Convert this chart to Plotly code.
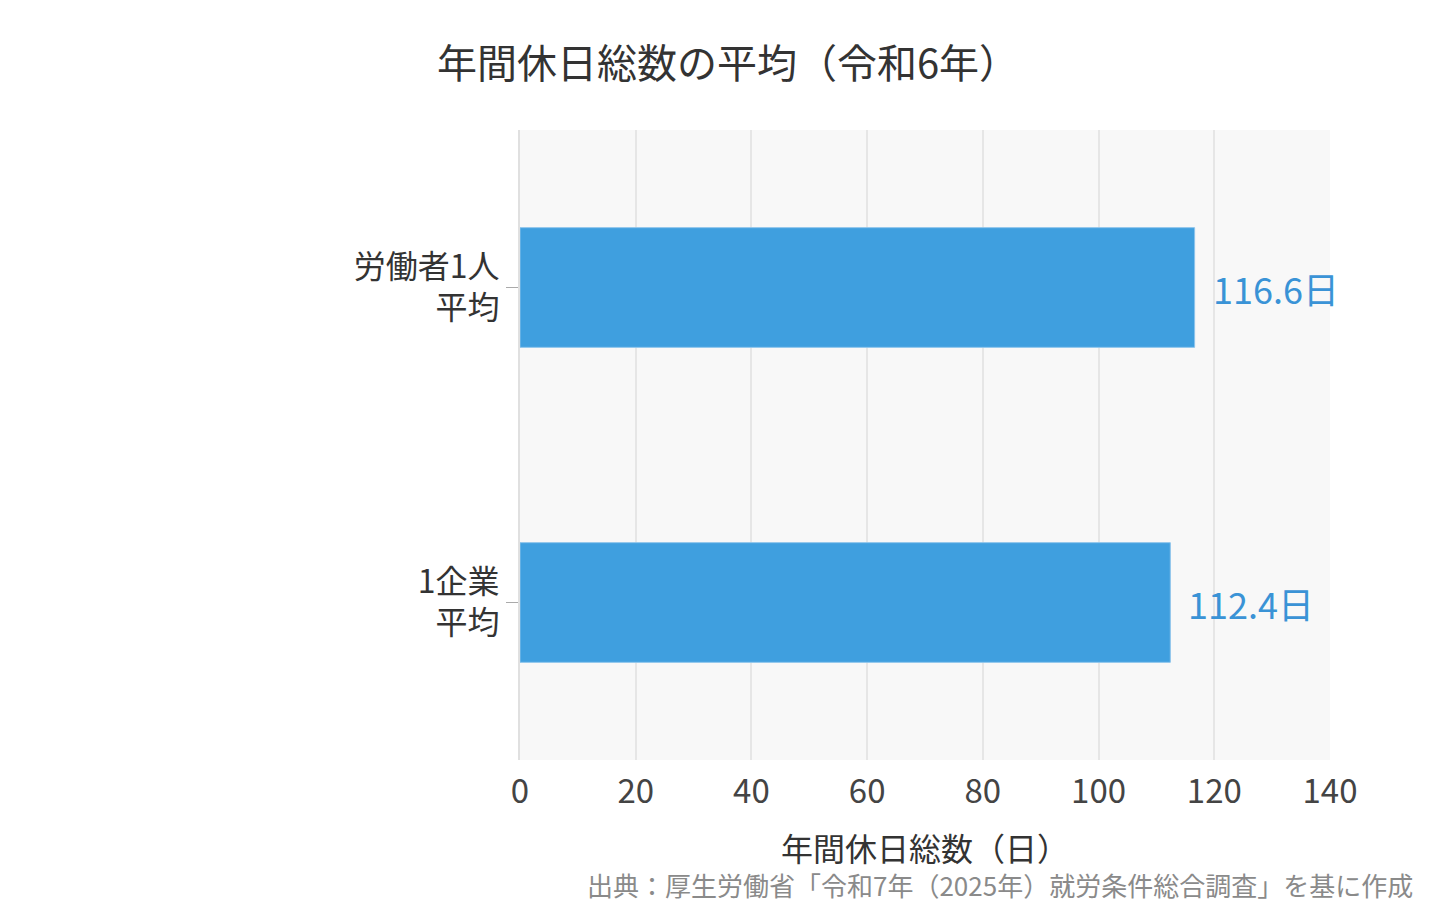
import plotly.graph_objects as go

# data
categories = ["労働者1人<br>平均", "1企業<br>平均"]
values = [116.6, 112.4]
value_labels = ["116.6日", "112.4日"]
x_ticks = [0, 20, 40, 60, 80, 100, 120, 140]

FONT = "Noto Sans CJK JP, Noto Sans, sans-serif"
BAR = "#3f9fdf"

fig = go.Figure()
fig.add_trace(go.Bar(
    x=values, y=categories, orientation="h",
    marker=dict(color=BAR, line=dict(color="#8cc4ec", width=1)),
    hoverinfo="skip",
))

# value labels just to the right of each bar
for c, v, t in zip(categories, values, value_labels):
    fig.add_annotation(x=v, y=c, text=t, showarrow=False,
                       xanchor="left", xshift=16,
                       font=dict(family=FONT, size=36, color="#3a93d6"))

fig.add_annotation(text="出典：厚生労働省「令和7年（2025年）就労条件総合調査」を基に作成",
                   xref="paper", yref="paper", x=1.0, y=-0.198,
                   xanchor="right", yanchor="middle", xshift=85, showarrow=False,
                   font=dict(family=FONT, size=26, color="#8a8a8a"))

fig.update_layout(
    width=1440, height=920,
    margin=dict(l=512, r=118, t=122, b=168),
    paper_bgcolor="white", plot_bgcolor="#f8f8f8",
    font=dict(family=FONT, color="#444444"),
    title=dict(text="年間休日総数の平均（令和6年）", x=0.5, xanchor="center",
               y=0.939, yanchor="middle",
               font=dict(family=FONT, size=40, color="#333333")),
    bargap=0.62,
    showlegend=False,
)
fig.update_xaxes(range=[0, 140], tickvals=x_ticks, ticks="",
                 ticklabelstandoff=9,
                 showgrid=True, gridcolor="#e6e6e6", gridwidth=1.5,
                 zeroline=False, showline=False,
                 tickfont=dict(size=33, color="#444444"),
                 title=dict(text="年間休日総数（日）", standoff=26,
                            font=dict(size=32, color="#333333")))
fig.update_yaxes(autorange="reversed", ticks="outside", ticklen=12,
                 tickcolor="#aaaaaa", showgrid=False, showline=True,
                 linecolor="#e0e0e0", linewidth=2,
                 tickfont=dict(size=32, color="#333333"))

fig.write_html("out.html")
